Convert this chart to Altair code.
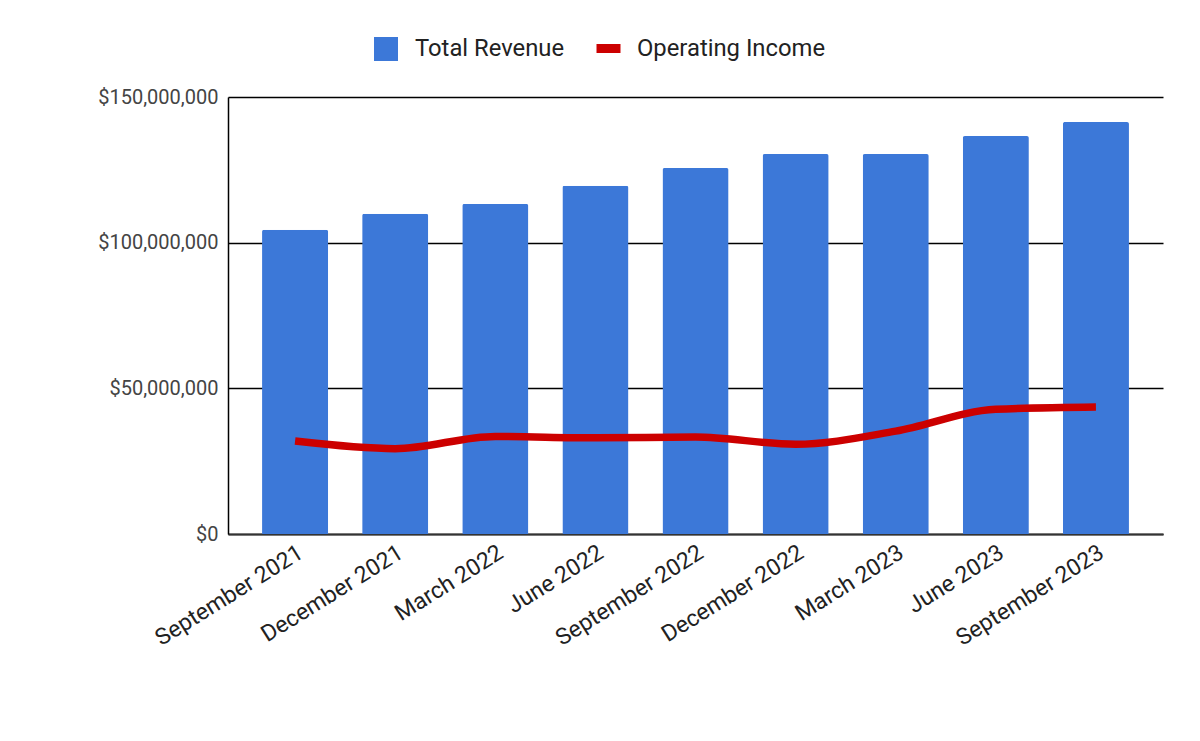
import altair as alt
import pandas as pd

quarters = ["September 2021", "December 2021", "March 2022", "June 2022",
            "September 2022", "December 2022", "March 2023", "June 2023",
            "September 2023"]
total_revenue = [104.4e6, 109.9e6, 113.3e6, 119.5e6, 125.6e6, 130.4e6, 130.4e6, 136.6e6, 141.4e6]
operating_income = [31.9e6, 29.3e6, 33.5e6, 33.0e6, 33.3e6, 30.8e6, 35.3e6, 42.8e6, 43.6e6]

df = pd.DataFrame({"quarter": quarters, "revenue": total_revenue, "income": operating_income})

FONT = "Roboto"
yscale = alt.Scale(domain=[0, 150e6], nice=False)

x = alt.X("quarter:N", sort=quarters, title=None,
          scale=alt.Scale(paddingInner=0.34, paddingOuter=0.34),
          axis=alt.Axis(labelAngle=-32, labelFontSize=23, labelColor="#222222",
                        labelFont=FONT, ticks=False, domainColor="#333333",
                        domainWidth=2, labelPadding=7, grid=False, labelLimit=300))

bars = alt.Chart(df).transform_calculate(series="'Total Revenue'").mark_bar(
    cornerRadiusTopLeft=2, cornerRadiusTopRight=2
).encode(
    x=x,
    y=alt.Y("revenue:Q", title=None, scale=yscale,
            axis=alt.Axis(values=[0, 50e6, 100e6, 150e6], format="$,.0f",
                          labelFontSize=20, labelFont=FONT, labelColor="#444444",
                          ticks=False, labelPadding=10, grid=True,
                          gridColor="#000000", gridWidth=1.5,
                          domainColor="#000000", domainWidth=1.5)),
    fill=alt.Fill("series:N", scale=alt.Scale(domain=["Total Revenue"], range=["#3c78d8"]),
                  legend=alt.Legend(title=None, orient="none", legendX=146, legendY=-60,
                                    symbolType="square", symbolSize=576,
                                    symbolStrokeWidth=0, labelFontSize=23.8,
                                    labelFont=FONT, labelColor="#222222",
                                    labelOffset=17, padding=0, labelLimit=400)),
)

line = alt.Chart(df).transform_calculate(series="'Operating Income'").mark_line(
    interpolate="monotone", strokeWidth=7.5
).encode(
    x=alt.X("quarter:N", sort=quarters),
    y=alt.Y("income:Q", scale=yscale),
    stroke=alt.Stroke("series:N", scale=alt.Scale(domain=["Operating Income"], range=["#cc0000"]),
                      legend=alt.Legend(title=None, orient="none", legendX=364, legendY=-65,
                                        symbolType="stroke", symbolSize=576,
                                        symbolStrokeWidth=9, labelFontSize=23.8,
                                        labelFont=FONT, labelColor="#222222",
                                        labelOffset=12, padding=0, labelLimit=400)),
)

chart = alt.layer(bars, line).resolve_scale(fill="independent", stroke="independent").properties(
    width=935, height=437,
    autosize=alt.AutoSizeParams(type="none"),
    padding={"left": 220, "top": 89, "right": 20, "bottom": 150},
    background="white",
).configure_view(stroke=None)

chart.save("out.html", embed_options={"renderer": "svg", "actions": False})
